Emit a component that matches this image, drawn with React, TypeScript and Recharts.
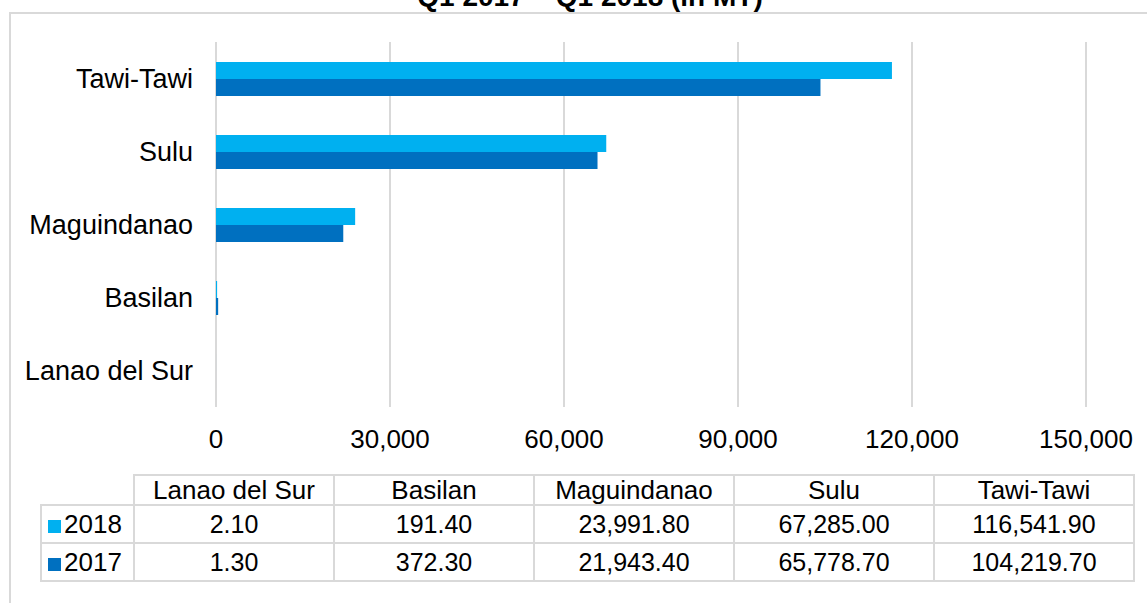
import { Bar, BarChart, CartesianGrid, XAxis, YAxis } from "recharts";

const regions = ["Lanao del Sur", "Basilan", "Maguindanao", "Sulu", "Tawi-Tawi"];
const values2018 = [2.1, 191.4, 23991.8, 67285.0, 116541.9];
const values2017 = [1.3, 372.3, 21943.4, 65778.7, 104219.7];
const xTicks = [0, 30000, 60000, 90000, 120000, 150000];

const C2018 = "#00B0F0";
const C2017 = "#0070C0";
const GRID = "#D9D9D9";
const FONT = "'Liberation Sans', Arial, sans-serif";

const data = regions.map((region, i) => ({
  region,
  y2018: values2018[i],
  y2017: values2017[i],
}));

const fmtTick = (v: number) => v.toLocaleString("en-US");
const fmtCell = (v: number) =>
  v.toLocaleString("en-US", { minimumFractionDigits: 2, maximumFractionDigits: 2 });

const series = [
  { label: "2018", color: C2018, values: values2018 },
  { label: "2017", color: C2017, values: values2017 },
];

const cell = {
  border: `2px solid ${GRID}`,
  padding: 0,
  textAlign: "center" as const,
  fontSize: 25,
  lineHeight: "26px",
  color: "#000",
};

export default function App() {
  return (
    <div
      style={{
        position: "absolute",
        left: 0,
        top: 0,
        width: 1147,
        height: 603,
        overflow: "hidden",
        background: "#fff",
        fontFamily: FONT,
      }}
    >
      <svg width={1147} height={20} style={{ position: "absolute", left: 0, top: 0 }}>
        <text
          x={590}
          y={6}
          textAnchor="middle"
          fontSize={28}
          fontWeight="bold"
          fontFamily={FONT}
          fill="#000"
        >
          Q1 2017 – Q1 2018 (in MT)
        </text>
      </svg>
      <div
        style={{
          position: "absolute",
          left: 9,
          top: 12,
          width: 1300,
          height: 800,
          border: `2px solid ${GRID}`,
        }}
      />
      <div style={{ position: "absolute", left: 0, top: 0 }}>
        <BarChart
          width={1147}
          height={460}
          data={data}
          layout="vertical"
          margin={{ top: 42, right: 61, left: 0, bottom: 0 }}
          barGap={0}
          barSize={17}
        >
          <CartesianGrid horizontal={false} stroke={GRID} strokeWidth={2} />
          <XAxis
            type="number"
            domain={[0, 150000]}
            ticks={xTicks}
            tickFormatter={fmtTick}
            axisLine={false}
            tickLine={false}
            tickSize={0}
            tickMargin={23}
            height={53}
            tick={{ fontSize: 26, fill: "#000", fontFamily: FONT }}
          />
          <YAxis
            type="category"
            dataKey="region"
            reversed
            width={216}
            axisLine={false}
            tickLine={false}
            tickSize={0}
            tickMargin={23}
            tick={{ fontSize: 27, fill: "#000", fontFamily: FONT }}
          />
          <Bar dataKey="y2018" name="2018" fill={C2018} isAnimationActive={false} />
          <Bar dataKey="y2017" name="2017" fill={C2017} isAnimationActive={false} />
        </BarChart>
      </div>
      <table
        style={{
          position: "absolute",
          left: 40,
          top: 474,
          borderCollapse: "collapse",
          tableLayout: "fixed",
          fontFamily: FONT,
        }}
      >
        <colgroup>
          <col style={{ width: 93 }} />
          {regions.map((r) => (
            <col key={r} style={{ width: 200 }} />
          ))}
        </colgroup>
        <tbody>
          <tr style={{ height: 30 }}>
            <td style={{ ...cell, borderTop: "none", borderLeft: "none" }} />
            {regions.map((r) => (
              <td key={r} style={{ ...cell, fontSize: 26 }}>
                {r}
              </td>
            ))}
          </tr>
          {series.map((s) => (
            <tr key={s.label} style={{ height: 38 }}>
              <td style={{ ...cell, fontSize: 26, textAlign: "left", paddingLeft: 6 }}>
                <span
                  style={{
                    display: "inline-block",
                    width: 13,
                    height: 13,
                    background: s.color,
                    marginRight: 3,
                  }}
                />
                {s.label}
              </td>
              {s.values.map((v, i) => (
                <td key={i} style={cell}>
                  {fmtCell(v)}
                </td>
              ))}
            </tr>
          ))}
        </tbody>
      </table>
    </div>
  );
}
